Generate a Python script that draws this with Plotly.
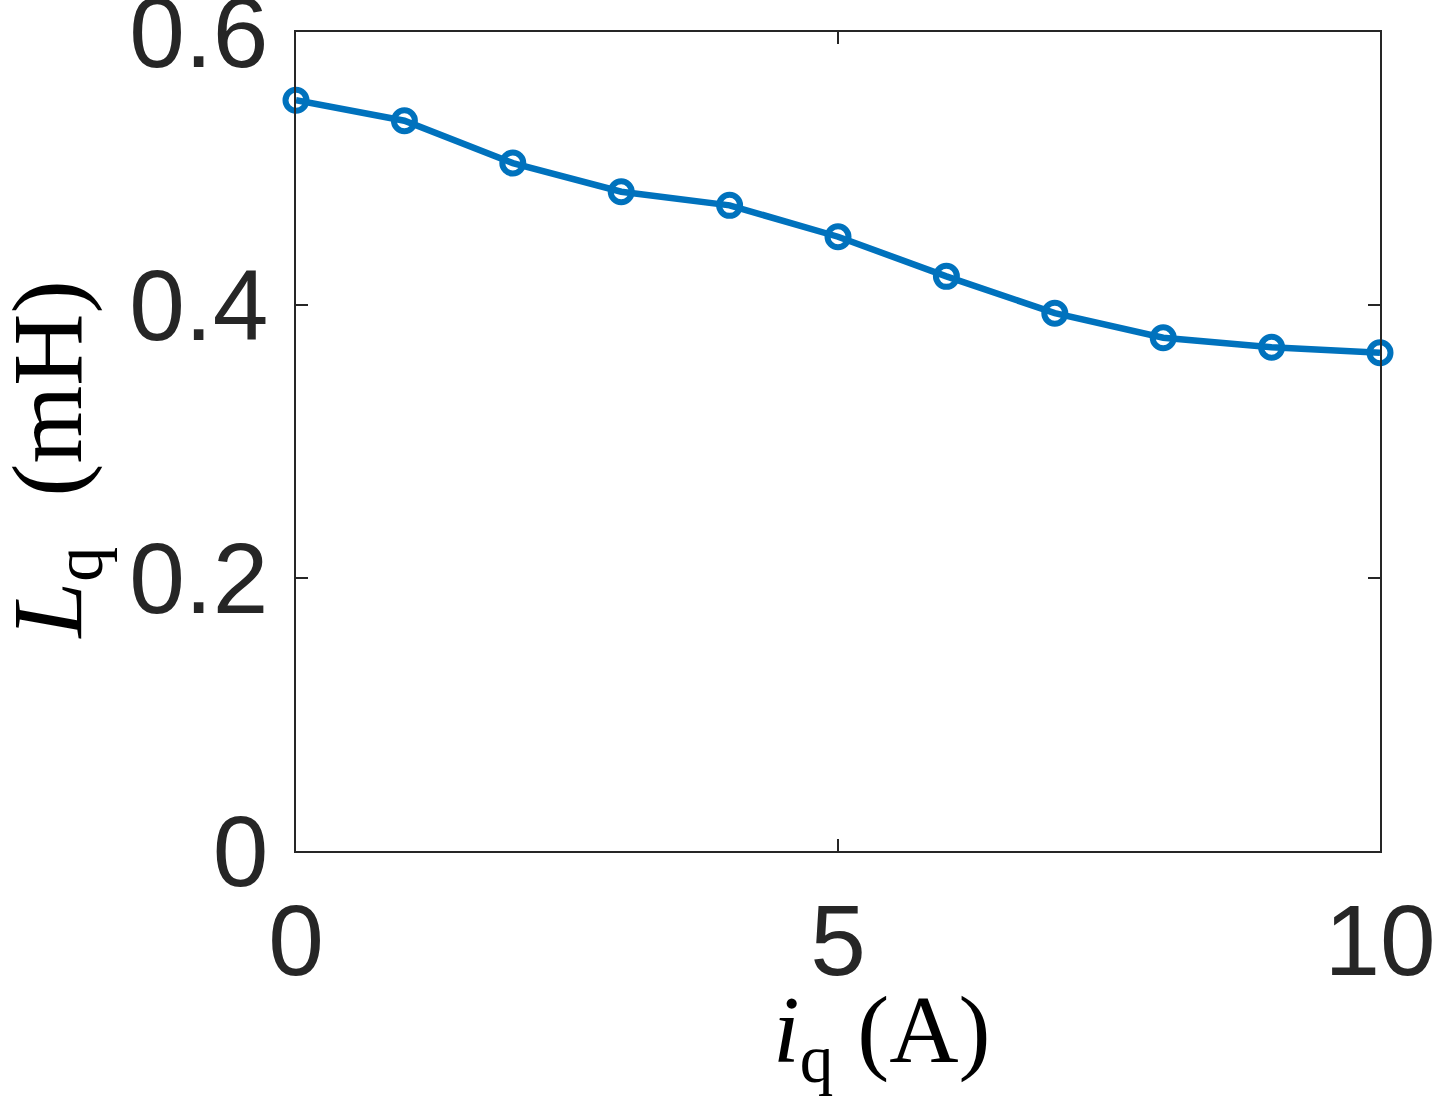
import plotly.graph_objects as go

# q-axis current (A) and measured q-axis inductance (mH)
iq_amps = [0, 1, 2, 3, 4, 5, 6, 7, 8, 9, 10]
lq_mh = [0.550, 0.535, 0.504, 0.483, 0.473, 0.450, 0.421, 0.394, 0.376, 0.369, 0.365]

x_ticks = [0, 5, 10]
y_ticks = [0, 0.2, 0.4, 0.6]
y_tick_labels = ["0", "0.2", "0.4", "0.6"]

LINE_BLUE = "#0072BD"
AXIS_GRAY = "#262626"
TICK_FONT = dict(family="Liberation Sans, Arial, sans-serif", size=100, color=AXIS_GRAY)
X_TITLE_FONT = dict(family="Liberation Serif, Times New Roman, serif", size=96, color="black")
Y_TITLE_FONT = dict(family="Liberation Serif, Times New Roman, serif", size=100, color="black")

fig = go.Figure()

fig.add_trace(
    go.Scatter(
        x=iq_amps,
        y=lq_mh,
        mode="lines+markers",
        line=dict(color=LINE_BLUE, width=6.5),
        marker=dict(
            symbol="circle-open",
            size=21,
            color=LINE_BLUE,
            line=dict(color=LINE_BLUE, width=6),
        ),
        cliponaxis=False,
        showlegend=False,
    )
)

axis_common = dict(
    showgrid=False,
    zeroline=False,
    showline=True,
    linecolor=AXIS_GRAY,
    linewidth=1.5,
    mirror="ticks",
    ticks="inside",
    ticklen=12,
    tickwidth=1.5,
    tickcolor=AXIS_GRAY,
    tickfont=TICK_FONT,
    automargin=False,
    ticklabeloverflow="allow",
)

fig.update_xaxes(
    range=[0, 10],
    tickvals=x_ticks,
    ticktext=[str(v) for v in x_ticks],
    ticklabelstandoff=2,
    **axis_common,
)
fig.update_yaxes(
    range=[0, 0.6],
    tickvals=y_ticks,
    ticktext=y_tick_labels,
    ticklabelstandoff=6,
    **axis_common,
)

fig.add_annotation(
    xref="paper",
    yref="paper",
    x=0.541,
    y=-0.227,
    xanchor="center",
    yanchor="middle",
    text="<i>i</i><sub>q</sub>&nbsp;(A)",
    showarrow=False,
    font=X_TITLE_FONT,
)

fig.add_annotation(
    xref="paper",
    yref="paper",
    x=-0.2232,
    y=0.477,
    xanchor="center",
    yanchor="middle",
    textangle=-90,
    text="<i>L</i><sub>q</sub>&nbsp;&nbsp;(mH)",
    showarrow=False,
    font=Y_TITLE_FONT,
)

fig.update_layout(
    width=1440,
    height=1098,
    margin=dict(l=296, r=60, t=32, b=247),
    paper_bgcolor="white",
    plot_bgcolor="white",
)

# drop the default 8px body margin so the figure fills the window exactly
fig.write_html(
    "out.html",
    config={"displayModeBar": False},
    post_script="document.body.style.margin = '0px';",
)
